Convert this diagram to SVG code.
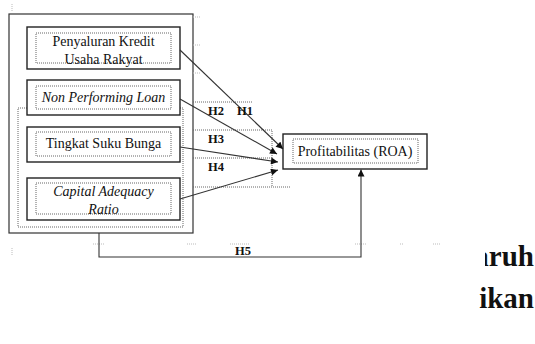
<svg xmlns="http://www.w3.org/2000/svg" width="535" height="344" viewBox="0 0 535 344">
<style>
.frame{fill:#fff;stroke:#333;stroke-width:1.2}
.box{fill:#fff;stroke:#222;stroke-width:1.4}
.dot{fill:none;stroke:#666;stroke-width:1;stroke-dasharray:1 1}
.lbl{font-family:"Liberation Serif","DejaVu Serif","Times New Roman",serif;font-size:14px;fill:#111;text-anchor:middle}
.it{font-style:italic}
.h{font-family:"Liberation Serif","DejaVu Serif","Times New Roman",serif;font-size:12.5px;font-weight:bold;fill:#111}
.big{font-family:"Liberation Serif","DejaVu Serif","Times New Roman",serif;font-size:29px;font-weight:bold;fill:#111;text-anchor:end}
.con{fill:none;stroke:#333;stroke-width:1.1}
.faint{stroke:#bbb;stroke-width:1;stroke-dasharray:1 1}
</style>
<defs>
<marker id="ah" viewBox="0 0 10 10" refX="10" refY="5" markerWidth="8" markerHeight="7" markerUnits="userSpaceOnUse" orient="auto">
<path d="M0,0 L10,5 L0,10 z" fill="#111"/>
</marker>
</defs>
<g id="frame">
<rect class="frame" x="9" y="14" width="184" height="219"/>
<rect class="dot" x="18" y="108" width="165" height="119"/>
</g>
<g id="guides">
<path class="dot" d="M193,102 H252 M193,130 H272 V187 M193,158 H272 M193,187 H290"/>
<path class="faint" d="M193,17 H200 M193,45 H200 M193,73 H200 M12,4 V12 M12,248 V256 M93,244 H105 M187,244 H197 M230,244 H250 M355,244 H367 M400,244 H404 M433,244 H440"/>
</g>
<g id="n1">
<rect class="box" x="27" y="27" width="153" height="42"/>
<rect class="dot" x="36" y="33" width="135" height="30"/>
<text class="lbl" x="103.5" y="46">Penyaluran Kredit</text>
<text class="lbl" x="103.5" y="64">Usaha Rakyat</text>
</g>
<g id="n2">
<rect class="box" x="27" y="80" width="153" height="35"/>
<rect class="dot" x="36" y="86" width="135" height="23"/>
<text class="lbl it" x="103.5" y="102">Non Performing Loan</text>
</g>
<g id="n3">
<rect class="box" x="27" y="127" width="153" height="35"/>
<rect class="dot" x="36" y="132" width="135" height="24"/>
<text class="lbl" x="103.5" y="148">Tingkat Suku Bunga</text>
</g>
<g id="n4">
<rect class="box" x="27" y="178" width="153" height="42"/>
<rect class="dot" x="36" y="183" width="135" height="31"/>
<text class="lbl it" x="103.5" y="196">Capital Adequacy</text>
<text class="lbl it" x="103.5" y="214">Ratio</text>
</g>
<g id="roa">
<rect class="box" x="283" y="134" width="144" height="35"/>
<rect class="dot" x="293" y="139" width="125" height="24"/>
<text class="lbl" x="355" y="156">Profitabilitas (ROA)</text>
</g>
<g id="connectors">
<path class="con" d="M180,50 L283,149" marker-end="url(#ah)"/>
<path class="con" d="M180,99 L277,154" marker-end="url(#ah)"/>
<path class="con" d="M180,147 L278,162" marker-end="url(#ah)"/>
<path class="con" d="M180,199 L278,170" marker-end="url(#ah)"/>
<path class="con" d="M99,233 V257 H361 V169.5" marker-end="url(#ah)"/>
<text class="h" x="208" y="115">H2</text>
<text class="h" x="237" y="115">H1</text>
<text class="h" x="208" y="143">H3</text>
<text class="h" x="208" y="171">H4</text>
<text class="h" x="235" y="255">H5</text>
</g>
<g id="bodytext">
<text class="big" x="534" y="266">aruh</text>
<text class="big" x="534" y="308">ikan</text>
<rect x="440" y="235" width="45" height="40" fill="#fff"/>
</g>
</svg>
